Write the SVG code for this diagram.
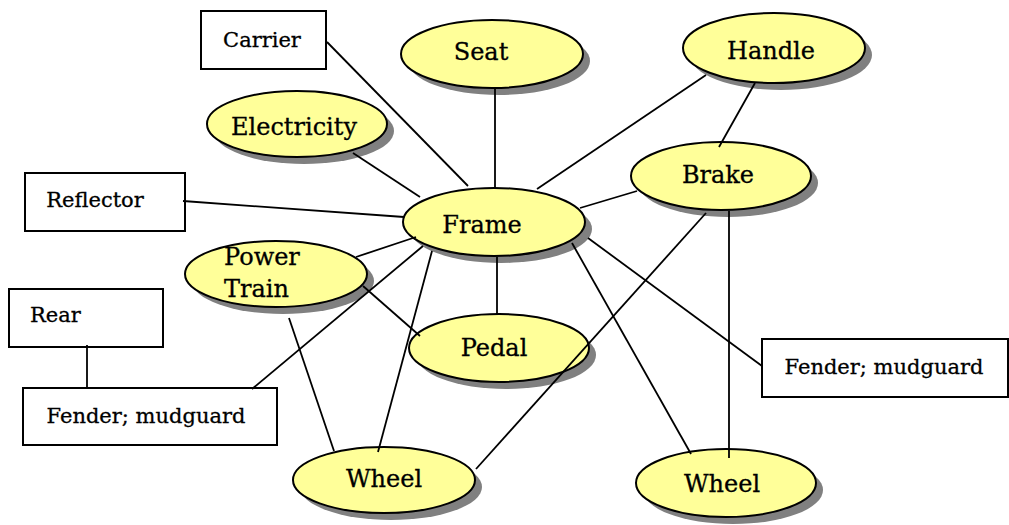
<svg xmlns="http://www.w3.org/2000/svg" width="1009" height="525" viewBox="0 0 1009 525">
<style>
.sh{fill:#808080}
.el{fill:#FFFF99;stroke:#000;stroke-width:2}
.bx{fill:#fff;stroke:#000;stroke-width:2}
.t{font-family:"DejaVu Serif",serif;font-size:24px;fill:#000;stroke:#000;stroke-width:0.3}
.bt{font-family:"DejaVu Serif",serif;font-size:21px;fill:#000;stroke:#000;stroke-width:0.3}
.c line{stroke:#000;stroke-width:1.8}
</style>
<rect width="1009" height="525" fill="#fff"/>
<g id="nodes">
<g id="carrier"><rect class="bx" x="201" y="11" width="125" height="58"/><text class="bt" x="262" y="47" text-anchor="middle">Carrier</text></g>
<g id="seat"><ellipse class="sh" cx="499" cy="61" rx="91" ry="34"/><ellipse class="el" cx="492" cy="54" rx="91" ry="34"/><text class="t" x="481" y="60" text-anchor="middle">Seat</text></g>
<g id="handle"><ellipse class="sh" cx="781" cy="55" rx="91" ry="35"/><ellipse class="el" cx="774" cy="48" rx="91" ry="35"/><text class="t" x="771" y="59" text-anchor="middle">Handle</text></g>
<g id="electricity"><ellipse class="sh" cx="304" cy="131" rx="90" ry="33"/><ellipse class="el" cx="297" cy="124" rx="90" ry="33"/><text class="t" x="294" y="135" text-anchor="middle">Electricity</text></g>
<g id="brake"><ellipse class="sh" cx="728" cy="183" rx="90" ry="34"/><ellipse class="el" cx="721" cy="176" rx="90" ry="34"/><text class="t" x="718" y="183" text-anchor="middle">Brake</text></g>
<g id="reflector"><rect class="bx" x="25" y="173" width="160" height="58"/><text class="bt" x="95" y="207" text-anchor="middle">Reflector</text></g>
<g id="frame"><ellipse class="sh" cx="501" cy="229" rx="91" ry="34"/><ellipse class="el" cx="494" cy="222" rx="91" ry="34"/><text class="t" x="482" y="233" text-anchor="middle">Frame</text></g>
<g id="powertrain"><ellipse class="sh" cx="283" cy="281" rx="91" ry="33"/><ellipse class="el" cx="276" cy="274" rx="91" ry="33"/><text class="t" x="224" y="265">Power</text><text class="t" x="224" y="297">Train</text></g>
<g id="rear"><rect class="bx" x="9" y="289" width="154" height="58"/><text class="bt" x="30" y="322">Rear</text></g>
<g id="pedal"><ellipse class="sh" cx="506" cy="355" rx="90" ry="34"/><ellipse class="el" cx="499" cy="348" rx="90" ry="34"/><text class="t" x="494" y="356" text-anchor="middle">Pedal</text></g>
<g id="fender-left"><rect class="bx" x="23" y="388" width="254" height="57"/><text class="bt" x="146" y="423" text-anchor="middle">Fender; mudguard</text></g>
<g id="fender-right"><rect class="bx" x="762" y="339" width="246" height="58"/><text class="bt" x="884" y="374" text-anchor="middle">Fender; mudguard</text></g>
<g id="wheel-left"><ellipse class="sh" cx="391" cy="487" rx="91" ry="33"/><ellipse class="el" cx="384" cy="480" rx="91" ry="33"/><text class="t" x="384" y="487" text-anchor="middle">Wheel</text></g>
<g id="wheel-right"><ellipse class="sh" cx="733" cy="490" rx="90" ry="34"/><ellipse class="el" cx="726" cy="483" rx="90" ry="34"/><text class="t" x="722" y="492" text-anchor="middle">Wheel</text></g>
</g>
<g id="connectors" class="c">
<line x1="327" y1="42" x2="468" y2="186"/>
<line x1="495" y1="88" x2="495" y2="188"/>
<line x1="353" y1="153" x2="420" y2="197"/>
<line x1="183" y1="201" x2="404" y2="217"/>
<line x1="706" y1="75" x2="537" y2="189"/>
<line x1="755" y1="83" x2="719" y2="147"/>
<line x1="637" y1="191" x2="580" y2="208"/>
<line x1="706" y1="213" x2="476" y2="469"/>
<line x1="729" y1="211" x2="729" y2="458"/>
<line x1="356" y1="257" x2="416" y2="237"/>
<line x1="363" y1="286" x2="420" y2="336"/>
<line x1="289" y1="318" x2="334" y2="451"/>
<line x1="378" y1="452" x2="432" y2="251"/>
<line x1="87" y1="345" x2="87" y2="389"/>
<line x1="252" y1="389" x2="423" y2="246"/>
<line x1="497" y1="257" x2="497" y2="314"/>
<line x1="572" y1="243" x2="691" y2="454"/>
<line x1="588" y1="238" x2="762" y2="366"/>
</g>
</svg>
